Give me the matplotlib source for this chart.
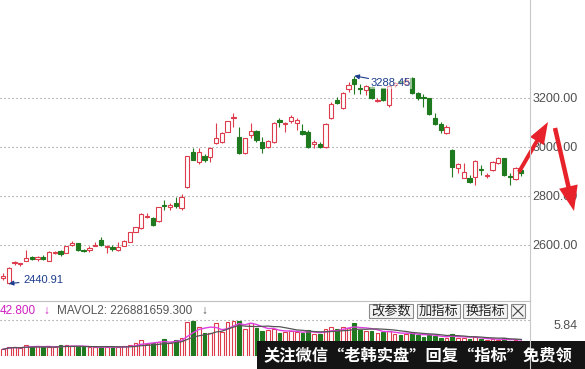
import matplotlib
matplotlib.use('Agg')
import matplotlib.pyplot as plt
from matplotlib.patches import Rectangle, FancyArrow
import numpy as np
import pandas as pd

plt.rcParams['font.family'] = ['Liberation Sans', 'DejaVu Sans']
CJK = ['Noto Sans CJK SC', 'DejaVu Sans']

# daily candles
opens = [2462, 2444, 2525, 2522, 2535, 2548, 2540, 2550, 2535, 2565,
         2575, 2566, 2598, 2605, 2580, 2578, 2596, 2618, 2590, 2592,
         2580, 2596, 2612, 2652, 2668, 2712, 2710, 2696, 2762, 2755,
         2770, 2750, 2835, 2978, 2937, 2961, 2957, 3014, 3020, 3060,
         3115, 3040, 2972, 3048, 3063, 3018, 2998, 3018, 3108, 3094,
         3105, 3096, 3063, 3060, 3010, 3010, 2998, 3116, 3190, 3157,
         3235, 3275, 3239, 3231, 3243, 3186, 3239, 3169, 3250, 3268,
         3255, 3280, 3218, 3204, 3198, 3116, 3092, 3055, 2986, 2912,
         2872, 2872, 2876, 2910, 2880, 2904, 2933, 2953, 2878, 2867,
         2904]
highs = [2486, 2510, 2535, 2527, 2578, 2552, 2552, 2556, 2572, 2575,
         2580, 2596, 2615, 2607, 2584, 2594, 2612, 2630, 2598, 2598,
         2612, 2618, 2652, 2673, 2728, 2730, 2712, 2755, 2784, 2770,
         2794, 2806, 2962, 2996, 2994, 2969, 2998, 3096, 3060, 3106,
         3137, 3080, 3036, 3096, 3067, 3040, 3027, 3100, 3116, 3100,
         3129, 3116, 3092, 3067, 3027, 3018, 3096, 3182, 3202, 3222,
         3263, 3288.45, 3255, 3251, 3247, 3198, 3240, 3251, 3265, 3275,
         3280, 3284, 3222, 3214, 3200, 3137, 3100, 3088, 2990, 2933,
         2933, 2884, 2945, 2925, 2892, 2941, 2957, 2955, 2892, 2916,
         2912]
lows = [2455, 2440.91, 2515, 2514, 2533, 2538, 2535, 2538, 2533, 2560,
        2555, 2564, 2595, 2575, 2570, 2570, 2594, 2594, 2566, 2575,
        2575, 2594, 2610, 2650, 2665, 2708, 2678, 2694, 2740, 2742,
        2748, 2742, 2832, 2944, 2929, 2937, 2937, 3010, 3015, 3058,
        3080, 2970, 2970, 3035, 3018, 2974, 2996, 3015, 3080, 3060,
        3096, 3067, 3047, 2994, 2994, 2994, 2994, 3114, 3173, 3155,
        3222, 3214, 3214, 3210, 3194, 3180, 3186, 3161, 3245, 3255,
        3250, 3214, 3190, 3161, 3128, 3088, 3055, 3053, 2876, 2892,
        2870, 2851, 2843, 2884, 2872, 2900, 2930, 2880, 2843, 2863,
        2880]
closes = [2470, 2506, 2528, 2525, 2545, 2540, 2548, 2542, 2570, 2570,
          2562, 2594, 2606, 2580, 2574, 2586, 2600, 2598, 2594, 2582,
          2590, 2615, 2650, 2670, 2724, 2718, 2682, 2752, 2758, 2760,
          2757, 2794, 2960, 2946, 2978, 2945, 2994, 3035, 3056, 3104,
          3120, 2975, 3034, 3062, 3027, 2994, 3022, 3096, 3100, 3098,
          3120, 3108, 3050, 2998, 3018, 2998, 3094, 3173, 3178, 3220,
          3251, 3255, 3235, 3247, 3198, 3190, 3190, 3249, 3258, 3264,
          3272, 3218, 3198, 3200, 3133, 3092, 3067, 3080, 2916, 2928,
          2896, 2855, 2941, 2906, 2886, 2937, 2953, 2884, 2874, 2912,
          2892]
# volume, 100 million shares
volumes = [1.08, 1.51, 1.51, 1.25, 1.79, 1.51, 1.62, 1.41, 1.41, 1.41,
           1.79, 1.79, 1.62, 1.41, 1.41, 1.41, 1.51, 1.41, 1.51, 1.41,
           1.41, 1.62, 1.79, 2.06, 2.60, 1.95, 2.16, 2.33, 2.71, 2.06,
           2.60, 2.87, 5.57, 5.73, 4.76, 3.68, 3.68, 5.30, 3.95, 5.57,
           5.73, 5.73, 4.33, 5.30, 4.49, 4.0, 4.2, 4.4, 3.8, 3.9,
           4.0, 3.9, 3.7, 4.2, 3.6, 3.5, 4.4, 4.7, 4.3, 4.7,
           4.6, 5.3, 4.2, 4.0, 4.1, 3.7, 3.9, 4.1, 3.5, 3.4,
           3.6, 3.8, 3.4, 3.1, 3.4, 3.2, 3.0, 2.9, 3.6, 3.0,
           3.0, 2.8, 3.1, 2.7, 2.6, 2.7, 2.6, 2.9, 2.5, 2.6, 2.4]

price_ticks = [2600, 2800, 3000, 3200]
price_labels = ['2600.00', '2800.00', '3000.00', '3200.00']
vol_max = 5.84
buttons = ['改参数', '加指标', '换指标']
banner = '关注微信“老韩实盘”回复“指标”免费领'

RED = '#dc3c4c'
GREEN = '#1f7a1f'
GRID = '#8c8c8c'

W, H = 585, 369
fig = plt.figure(figsize=(W / 100, H / 100), dpi=100)


def box(x0, y0, x1, y1):
    return [x0 / W, 1 - y1 / H, (x1 - x0) / W, (y1 - y0) / H]


df = pd.DataFrame({'open': opens, 'high': highs, 'low': lows,
                   'close': closes, 'vol': volumes})
x = np.arange(len(df))
up = df['close'] >= df['open']
cols = np.where(up, RED, GREEN)
faces = np.where(up, 'white', GREEN)
top = df[['open', 'close']].max(axis=1)
bot = df[['open', 'close']].min(axis=1)

# ---- price panel
ax = fig.add_axes(box(0, 0, 530, 301))
ax.set_xlim(-0.52, 91.5)
ax.set_ylim(2370, 3598)
for t in price_ticks:
    ax.axhline(t, color=GRID, lw=0.8, ls=(0, (1, 2.6)), zorder=0)
ax.vlines(x, top, df['high'], colors=cols, lw=0.8)
ax.vlines(x, df['low'], bot, colors=cols, lw=0.8)
ax.bar(x, np.maximum(top - bot, 2.5), bottom=bot, width=0.74,
       color=faces, edgecolor=cols, linewidth=0.8)

ax.yaxis.tick_right()
ax.set_yticks(price_ticks, price_labels)
ax.set_xticks([])
ax.tick_params(axis='y', length=0, pad=34.5, labelsize=9, labelcolor='#505050')
for lbl in ax.get_yticklabels():
    lbl.set_horizontalalignment('right')
for s in ax.spines.values():
    s.set_visible(False)

blue = '#1c3c8c'
ax.annotate('2440.91', xy=(1, 2440.91), xytext=(3.5, 2455), color=blue,
            fontsize=8, ha='left', va='center',
            arrowprops=dict(arrowstyle='-|>', color=blue, lw=0.8,
                            mutation_scale=7, shrinkA=1, shrinkB=0))
ax.annotate('3288.45', xy=(61, 3288.45), xytext=(63.9, 3261), color=blue,
            fontsize=8, ha='left', va='center',
            bbox=dict(boxstyle='square,pad=0.1', fc='white', ec='none', alpha=0.55),
            arrowprops=dict(arrowstyle='-|>', color=blue, lw=0.8,
                            mutation_scale=7, shrinkA=1, shrinkB=0))

# ---- volume panel
vax = fig.add_axes(box(0, 320, 530, 356))
vax.set_xlim(-0.52, 91.5)
vax.set_ylim(0, vol_max)
vax.axhline(vol_max, color=GRID, lw=0.8, ls=(0, (1, 2.6)), clip_on=False)
vax.bar(x, df['vol'], width=0.64, color=faces, edgecolor=cols, linewidth=0.8)
vax.plot(x, df['vol'].rolling(5, min_periods=1).mean(), color='#e040e0', lw=1)
vax.plot(x, df['vol'].rolling(10, min_periods=1).mean(), color='#555555', lw=0.9)
vax.yaxis.tick_right()
vax.set_yticks([vol_max], [f'{vol_max:.2f}'])
vax.set_xticks([])
vax.tick_params(axis='y', length=0, pad=34.5, labelsize=9, labelcolor='#505050')
for lbl in vax.get_yticklabels():
    lbl.set_horizontalalignment('right')
    lbl.set_verticalalignment('top')
for s in vax.spines.values():
    s.set_visible(False)

# ---- overlay in pixel units for frame, header, buttons, arrows, banner
ov = fig.add_axes([0, 0, 1, 1], zorder=5)
ov.set_xlim(0, W)
ov.set_ylim(H, 0)
ov.axis('off')
ov.patch.set_alpha(0)

ov.plot([530, 530], [0, H], color='#c8c8c8', lw=0.8)
ov.plot([0, 530], [301, 301], color='#c0c0c0', lw=0.8)

ov.text(0, 311, '42.800', color='#d020c0', fontsize=8.5, va='center')
ov.text(43, 311, '↓', color='#d020c0', fontsize=8.5, va='center')
ov.text(57, 311, 'MAVOL2: 226881659.300', color='#555555', fontsize=8.5, va='center')
ov.text(201, 311, '↓', color='#555555', fontsize=8.5, va='center')

bx = [(369, 413), (417, 460), (463, 507)]
for (x0, x1), name in zip(bx, buttons):
    ov.add_patch(Rectangle((x0, 304), x1 - x0, 14, fc='#f4f4f4', ec='#8a8a8a', lw=0.8))
    ov.text((x0 + x1) / 2, 311.5, name, family=CJK, fontsize=9.5,
            color='#222222', ha='center', va='center')
ov.add_patch(Rectangle((511, 304), 14, 14, fc='#f4f4f4', ec='#8a8a8a', lw=0.8))
ov.plot([513, 523], [306, 316], color='#444444', lw=0.8)
ov.plot([513, 523], [316, 306], color='#444444', lw=0.8)

arrow_red = '#e8222a'
ov.add_patch(FancyArrow(519, 172, 29, -50, width=4, head_width=16, head_length=22,
                        length_includes_head=True, color=arrow_red, lw=0))
ov.add_patch(FancyArrow(555, 128, 19, 83, width=4.5, head_width=19, head_length=25,
                        length_includes_head=True, color=arrow_red, lw=0))

ov.add_patch(Rectangle((257, 341), W - 257, H - 341, fc='#141414', ec='none'))
ov.text(263, 355, banner, family=CJK, fontsize=11.7, color='white',
        ha='left', va='center', weight='bold')

fig.savefig('out.png', dpi=100)
